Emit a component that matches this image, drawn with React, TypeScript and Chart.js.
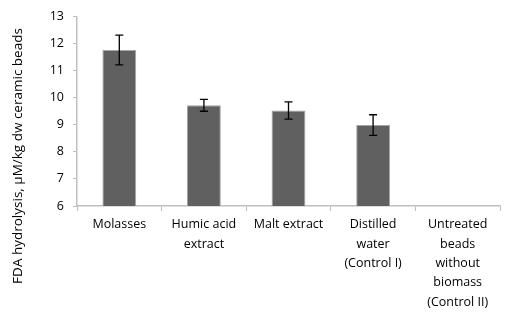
import React, { useEffect, useRef } from "react";
import { Chart, registerables } from "chart.js";

Chart.register(...registerables);

const categories: (string | string[])[] = [
  "Molasses",
  ["Humic acid", "extract"],
  "Malt extract",
  ["Distilled", "water", "(Control I)"],
  ["Untreated", "beads", "without", "biomass", "(Control II)"],
];
const values: (number | null)[] = [11.76, 9.72, 9.53, 8.99, null];
const errors: (number | null)[] = [0.55, 0.22, 0.32, 0.38, null];
const yTitle = "FDA hydrolysis, µM/kg dw ceramic beads";
const yMin = 6;
const yMax = 13;

const FONT = "'Open Sans', sans-serif";

const errorBarPlugin = {
  id: "errorBars",
  afterDatasetsDraw(chart: any) {
    const ctx = chart.ctx;
    const meta = chart.getDatasetMeta(0);
    const y = chart.scales.y;
    ctx.save();
    ctx.strokeStyle = "#000";
    ctx.lineWidth = 1.3;
    meta.data.forEach((bar: any, i: number) => {
      const v = values[i];
      const e = errors[i];
      if (v == null || e == null) return;
      const x = bar.x;
      const top = y.getPixelForValue(v + e);
      const bot = y.getPixelForValue(v - e);
      ctx.beginPath();
      ctx.moveTo(x, top);
      ctx.lineTo(x, bot);
      ctx.moveTo(x - 4, top);
      ctx.lineTo(x + 4, top);
      ctx.moveTo(x - 4, bot);
      ctx.lineTo(x + 4, bot);
      ctx.stroke();
    });
    ctx.restore();
  },
};

const yTitlePlugin = {
  id: "yTitle",
  afterDraw(chart: any) {
    const ctx = chart.ctx;
    ctx.save();
    ctx.translate(18, 156);
    ctx.rotate(-Math.PI / 2);
    ctx.font = `13.5px ${FONT}`;
    ctx.fillStyle = "#000";
    ctx.textAlign = "center";
    ctx.textBaseline = "middle";
    ctx.fillText(yTitle, 0, 0);
    ctx.restore();
  },
};

export default function App() {
  const ref = useRef<HTMLCanvasElement>(null);
  useEffect(() => {
    document.body.style.margin = "0";
    const chart = new Chart(ref.current!, {
      type: "bar",
      data: {
        labels: categories as any,
        datasets: [
          {
            data: values as any,
            backgroundColor: "#606060",
            borderColor: "#a6a6a6",
            borderWidth: 1,
            barPercentage: 0.4,
            categoryPercentage: 1,
          },
        ],
      },
      options: {
        animation: false,
        responsive: false,
        maintainAspectRatio: false,
        layout: { padding: { top: 14, right: 10, left: 0, bottom: 0 } },
        plugins: {
          legend: { display: false },
          tooltip: { enabled: false },
        },
        scales: {
          x: {
            offset: true,
            grid: {
              offset: true,
              display: true,
              drawOnChartArea: false,
              color: "#bfbfbf",
              tickLength: 5,
            },
            border: { color: "#bfbfbf", width: 1.5 },
            ticks: {
              color: "#000",
              font: { family: FONT, size: 12.5, lineHeight: 1.55 },
              padding: 4,
              maxRotation: 0,
              autoSkip: false,
            },
            afterFit(scale: any) {
              scale.height = 106;
            },
          },
          y: {
            min: yMin,
            max: yMax,
            grid: {
              display: true,
              drawOnChartArea: false,
              color: "#bfbfbf",
              tickLength: 4,
            },
            border: { color: "#bfbfbf", width: 1.5 },
            ticks: {
              stepSize: 1,
              color: "#000",
              font: { family: FONT, size: 12.5 },
              padding: 9,
            },
            afterFit(scale: any) {
              scale.width = 77;
            },
          },
        },
      },
      plugins: [errorBarPlugin, yTitlePlugin],
    });
    return () => chart.destroy();
  }, []);
  return (
    <div style={{ width: 510, height: 312 }}>
      <canvas ref={ref} width={510} height={312} style={{ display: "block" }} />
    </div>
  );
}
